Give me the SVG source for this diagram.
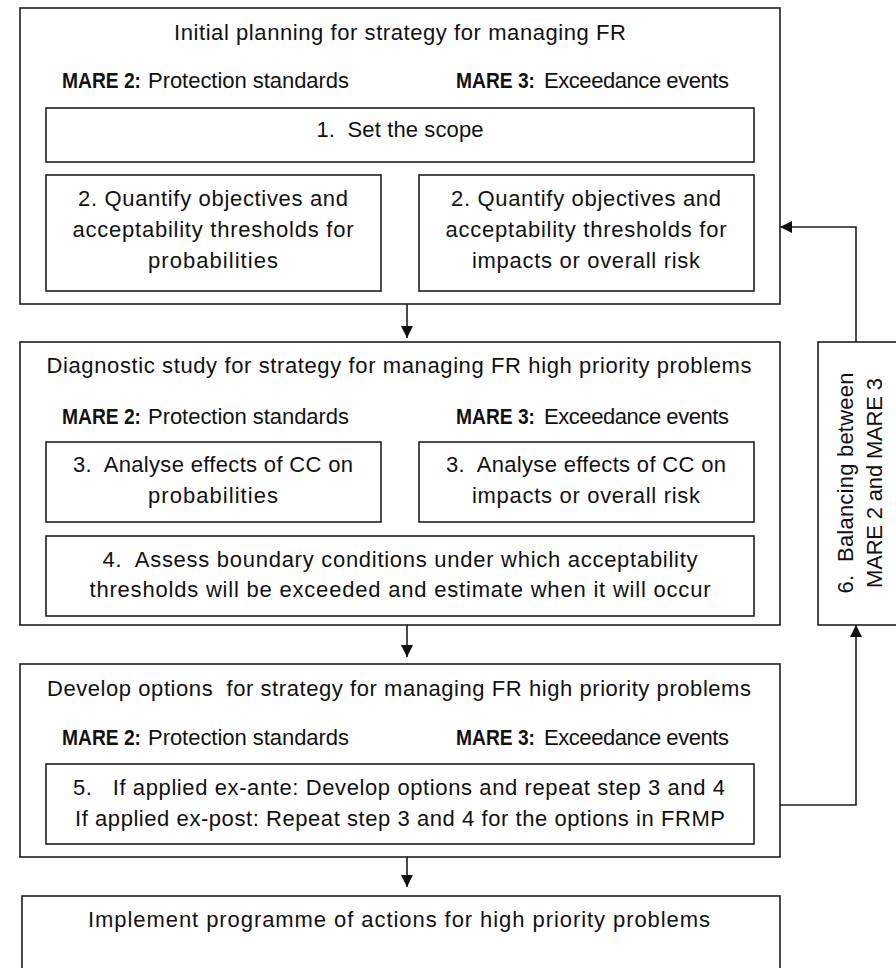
<svg xmlns="http://www.w3.org/2000/svg" width="896" height="968" viewBox="0 0 896 968">
<style>
rect{fill:#fff;stroke:#1e1e1e;stroke-width:1.6}
text{font-family:"Liberation Sans",Arial,sans-serif;font-size:22px;fill:#111;white-space:pre}
.c{text-anchor:middle}
.b{font-weight:bold}
.conn path{fill:none;stroke:#1e1e1e;stroke-width:1.6}
</style>
<defs>
<marker id="ah" markerUnits="userSpaceOnUse" markerWidth="12" markerHeight="12" refX="12" refY="6" orient="auto">
<path d="M0,0 L12,6 L0,12 z" fill="#111"/>
</marker>
</defs>
<rect x="0" y="0" width="896" height="968" style="stroke:none"/>

<g id="planning">
<rect x="20" y="8" width="760" height="296"/>
<text class="c" x="400" y="40" textLength="452">Initial planning for strategy for managing FR</text>
<text class="b" x="62" y="88" textLength="79" lengthAdjust="spacingAndGlyphs">MARE 2:</text>
<text x="148" y="88" textLength="201">Protection standards</text>
<text class="b" x="456" y="88" textLength="79" lengthAdjust="spacingAndGlyphs">MARE 3:</text>
<text x="544" y="88" textLength="185">Exceedance events</text>
</g>
<g id="step1">
<rect x="46" y="108" width="708" height="54"/>
<text class="c" x="400" y="137" textLength="167">1.  Set the scope</text>
</g>
<g id="step2a">
<rect x="46" y="175" width="335" height="116"/>
<text class="c" x="213" y="206" textLength="270">2. Quantify objectives and</text>
<text class="c" x="213" y="237" textLength="281">acceptability thresholds for</text>
<text class="c" x="213" y="268" textLength="130">probabilities</text>
</g>
<g id="step2b">
<rect x="419" y="175" width="335" height="116"/>
<text class="c" x="586" y="206" textLength="270">2. Quantify objectives and</text>
<text class="c" x="586" y="237" textLength="281">acceptability thresholds for</text>
<text class="c" x="586" y="268" textLength="228">impacts or overall risk</text>
</g>

<g id="diagnostic">
<rect x="20" y="342" width="760" height="283"/>
<text class="c" x="399" y="373" textLength="705">Diagnostic study for strategy for managing FR high priority problems</text>
<text class="b" x="62" y="424" textLength="79" lengthAdjust="spacingAndGlyphs">MARE 2:</text>
<text x="148" y="424" textLength="201">Protection standards</text>
<text class="b" x="456" y="424" textLength="79" lengthAdjust="spacingAndGlyphs">MARE 3:</text>
<text x="544" y="424" textLength="185">Exceedance events</text>
</g>
<g id="step3a">
<rect x="46" y="442" width="335" height="80"/>
<text class="c" x="213" y="472" textLength="280">3.  Analyse effects of CC on</text>
<text class="c" x="213" y="503" textLength="130">probabilities</text>
</g>
<g id="step3b">
<rect x="419" y="442" width="335" height="80"/>
<text class="c" x="586" y="472" textLength="280">3.  Analyse effects of CC on</text>
<text class="c" x="586" y="503" textLength="228">impacts or overall risk</text>
</g>
<g id="step4">
<rect x="46" y="536" width="708" height="80"/>
<text class="c" x="400" y="567" textLength="595">4.  Assess boundary conditions under which acceptability</text>
<text class="c" x="400" y="597" textLength="621">thresholds will be exceeded and estimate when it will occur</text>
</g>

<g id="options">
<rect x="20" y="664" width="760" height="193"/>
<text class="c" x="399" y="696" textLength="704">Develop options  for strategy for managing FR high priority problems</text>
<text class="b" x="62" y="745" textLength="79" lengthAdjust="spacingAndGlyphs">MARE 2:</text>
<text x="148" y="745" textLength="201">Protection standards</text>
<text class="b" x="456" y="745" textLength="79" lengthAdjust="spacingAndGlyphs">MARE 3:</text>
<text x="544" y="745" textLength="185">Exceedance events</text>
</g>
<g id="step5">
<rect x="46" y="764" width="708" height="80"/>
<text class="c" x="399" y="795" textLength="652">5.   If applied ex-ante: Develop options and repeat step 3 and 4</text>
<text class="c" x="400" y="826" textLength="650">If applied ex-post: Repeat step 3 and 4 for the options in FRMP</text>
</g>

<g id="step6">
<rect x="818" y="342" width="82" height="283"/>
<text class="c" transform="translate(853,483) rotate(-90)" textLength="221">6.  Balancing between</text>
<text class="c" transform="translate(882,483) rotate(-90)" textLength="210">MARE 2 and MARE 3</text>
</g>

<g id="implement">
<rect x="22" y="896" width="758" height="90"/>
<text class="c" x="399" y="927" textLength="622">Implement programme of actions for high priority problems</text>
</g>

<g id="connectors" class="conn">
<path d="M407,304 L407,338" marker-end="url(#ah)"/>
<path d="M407,625 L407,657" marker-end="url(#ah)"/>
<path d="M407,857 L407,887" marker-end="url(#ah)"/>
<path d="M780,805 L856,805 L856,625" marker-end="url(#ah)"/>
<path d="M856,342 L856,227 L780,227" marker-end="url(#ah)"/>
</g>
</svg>
